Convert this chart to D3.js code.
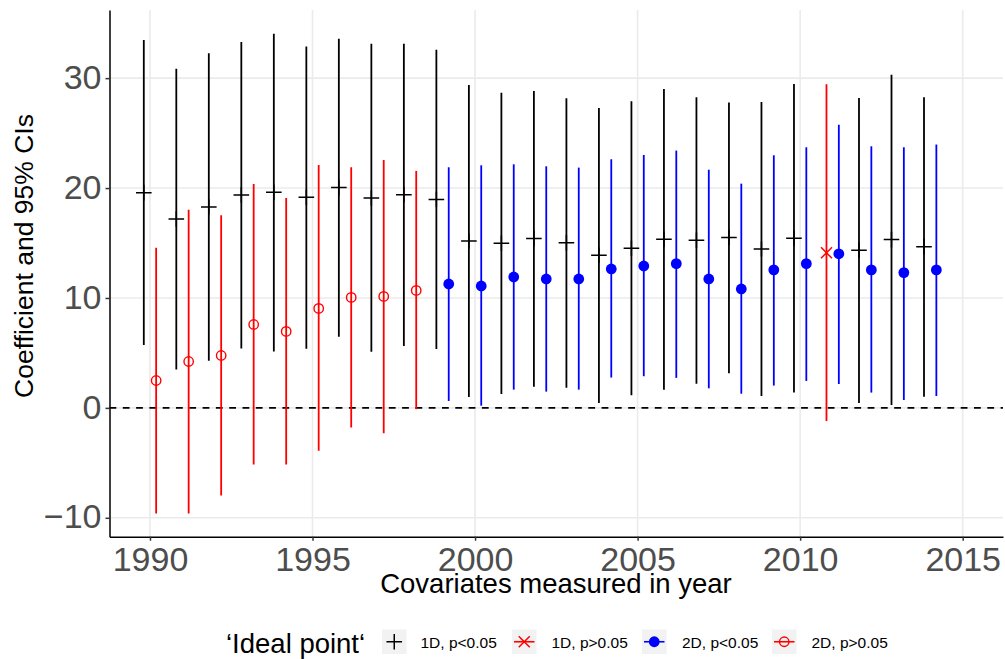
<!DOCTYPE html>
<html>
<head>
<meta charset="utf-8">
<script src="https://cdn.jsdelivr.net/npm/d3@7"></script>
<style>
  html, body { margin: 0; padding: 0; background: #fff; }
  svg { display: block; font-family: "Liberation Sans", Arial, Helvetica, sans-serif; }
</style>
</head>
<body>
<svg id="chart" width="1005" height="659"></svg>
<script>
// Year in which the covariates were measured
const years = [1990, 1991, 1992, 1993, 1994, 1995, 1996, 1997, 1998, 1999, 2000, 2001, 2002,
               2003, 2004, 2005, 2006, 2007, 2008, 2009, 2010, 2011, 2012, 2013, 2014];

// One-dimensional ideal point model: estimate and 95% CI
const est1D = [19.58, 17.19, 18.28, 19.37, 19.62, 19.16, 20.04, 19.10, 19.40, 18.97, 15.19, 14.98, 15.40,
               15.03, 13.88, 14.52, 15.34, 15.25, 15.50, 14.46, 15.43, 14.11, 14.35, 15.31, 14.67];
const lo1D  = [5.71, 3.50, 4.28, 5.41, 5.13, 5.38, 6.47, 5.10, 5.62, 5.36, 0.99, 1.26, 1.93,
               1.84, 0.45, 1.15, 1.66, 2.20, 3.15, 1.08, 1.39, -1.19, 0.45, 0.26, 1.02];
const hi1D  = [33.46, 30.85, 32.27, 33.28, 34.03, 32.88, 33.58, 33.12, 33.12, 32.58, 29.38, 28.68, 28.84,
               28.17, 27.29, 27.89, 29.02, 28.26, 27.78, 27.84, 29.47, 29.44, 28.20, 30.32, 28.26];
const sig1D = [true, true, true, true, true, true, true, true, true, true, true, true, true,
               true, true, true, true, true, true, true, true, false, true, true, true];

// Two-dimensional ideal point model: estimate and 95% CI
const est2D = [2.49, 4.22, 4.77, 7.59, 6.96, 9.05, 10.05, 10.14, 10.69, 11.27, 11.09, 11.91, 11.73,
               11.73, 12.64, 12.91, 13.12, 11.73, 10.82, 12.55, 13.12, 14.02, 12.55, 12.31, 12.55];
const lo2D  = [-9.62, -9.62, -7.98, -5.16, -5.16, -3.91, -1.79, -2.30, -0.12, 0.63, 0.20, 1.66, 1.48,
               1.66, 2.76, 2.88, 2.73, 1.78, 1.29, 2.03, 2.45, 2.18, 1.39, 0.72, 1.08];
const hi2D  = [14.57, 18.03, 17.52, 20.37, 19.10, 22.10, 21.89, 22.56, 21.56, 21.89, 22.07, 22.16, 21.98,
               21.86, 22.62, 23.01, 23.41, 21.67, 20.40, 22.98, 23.71, 25.77, 23.80, 23.71, 23.96];
const sig2D = [false, false, false, false, false, false, false, false, false, true, true, true, true,
               true, true, true, true, true, true, true, true, true, true, true, true];

const xTicks = [1990, 1995, 2000, 2005, 2010, 2015];
const yTicks = [-10, 0, 10, 20, 30];
const legendTitle = "\u2018Ideal point\u2018";
const legendLabels = ["1D, p<0.05", "1D, p>0.05", "2D, p<0.05", "2D, p>0.05"];

// Long-format rows: one per model and year
const rows = [];
years.forEach((yr, i) => {
  rows.push({ year: yr, model: "1D", est: est1D[i], lo: lo1D[i], hi: hi1D[i], sig: sig1D[i] });
  rows.push({ year: yr, model: "2D", est: est2D[i], lo: lo2D[i], hi: hi2D[i], sig: sig2D[i] });
});
const groupOf = d => `${d.model}, ${d.sig ? "p<0.05" : "p>0.05"}`;
const colour = d3.scaleOrdinal().domain(legendLabels).range(["#000000", "#FF0000", "#0000FF", "#FF0000"]);
const dodge = 0.19;

const svg = d3.select("#chart");
const panel = { left: 109.5, right: 1003, top: 10, bottom: 536.7 };

const x = d3.scaleLinear().domain([1988.755, 2016.24]).range([panel.left, panel.right]);
const y = d3.scaleLinear().domain([-11.72, 36.2]).range([panel.bottom, panel.top]);
const xPos = d => x(d.year + (d.model === "1D" ? -dodge : dodge));

// grid
const grid = svg.append("g").attr("stroke", "#EBEBEB").attr("stroke-width", 1.6);
grid.selectAll("line.h").data(yTicks).join("line")
  .attr("x1", panel.left).attr("x2", panel.right)
  .attr("y1", d => y(d)).attr("y2", d => y(d));
grid.selectAll("line.v").data(xTicks).join("line")
  .attr("y1", panel.top).attr("y2", panel.bottom)
  .attr("x1", d => x(d)).attr("x2", d => x(d));

// reference line at zero
svg.append("line")
  .attr("x1", panel.left).attr("x2", panel.right)
  .attr("y1", y(0)).attr("y2", y(0))
  .attr("stroke", "#000").attr("stroke-width", 1.8)
  .attr("stroke-dasharray", "6.8,6.5");

// confidence intervals
svg.append("g").selectAll("line").data(rows).join("line")
  .attr("x1", xPos).attr("x2", xPos)
  .attr("y1", d => y(d.lo)).attr("y2", d => y(d.hi))
  .attr("stroke", d => colour(groupOf(d)))
  .attr("stroke-width", 1.8);

// point shapes per group
function drawShape(g, group, cx, cy) {
  const c = colour(group);
  if (group === "1D, p<0.05") {
    g.append("path").attr("d", `M${cx - 7.8},${cy}H${cx + 7.8}M${cx},${cy - 7.8}V${cy + 7.8}`)
      .attr("stroke", c).attr("stroke-width", 1.5).attr("fill", "none");
  } else if (group === "1D, p>0.05") {
    const s = 5.5;
    g.append("path").attr("d", `M${cx - s},${cy - s}L${cx + s},${cy + s}M${cx - s},${cy + s}L${cx + s},${cy - s}`)
      .attr("stroke", c).attr("stroke-width", 1.5).attr("fill", "none");
  } else if (group === "2D, p<0.05") {
    g.append("circle").attr("cx", cx).attr("cy", cy).attr("r", 5.4).attr("fill", c);
  } else {
    g.append("circle").attr("cx", cx).attr("cy", cy).attr("r", 4.7)
      .attr("fill", "none").attr("stroke", c).attr("stroke-width", 1.4);
  }
}

const pts = svg.append("g");
rows.forEach(d => drawShape(pts, groupOf(d), xPos(d), y(d.est)));

// axes
const axisLeft = d3.axisLeft(y).tickValues(yTicks).tickSize(4).tickSizeOuter(0).tickPadding(5);
const axisBottom = d3.axisBottom(x).tickValues(xTicks).tickSize(4).tickSizeOuter(0).tickPadding(6)
  .tickFormat(d3.format("d"));

const gy = svg.append("g").attr("transform", `translate(${panel.left},0)`).call(axisLeft);
const gx = svg.append("g").attr("transform", `translate(0,${panel.bottom})`).call(axisBottom);
[gy, gx].forEach(g => {
  g.select(".domain").attr("stroke", "#000").attr("stroke-width", 1.5);
  g.selectAll(".tick line").attr("stroke", "#333").attr("stroke-width", 1.5);
  g.selectAll(".tick text").attr("fill", "#4D4D4D").attr("font-size", 34)
    .attr("font-family", "Liberation Sans, Arial, sans-serif");
});
gy.selectAll(".tick text").attr("dy", "0.30em").attr("x", -8);
gx.selectAll(".tick text").attr("dy", "0.71em");

// axis titles
svg.append("text").attr("x", 556).attr("y", 593).attr("text-anchor", "middle")
  .attr("font-size", 27.5).attr("fill", "#000").text("Covariates measured in year");
svg.append("text").attr("transform", "translate(33,256) rotate(-90)").attr("text-anchor", "middle")
  .attr("font-size", 26.5).attr("fill", "#000").text("Coefficient and 95% CIs");

// legend
const legend = svg.append("g");
legend.append("text").attr("x", 226).attr("y", 653).attr("font-size", 27.5).attr("fill", "#000").text(legendTitle);
const keyX = [382, 512, 642, 772];
const labelX = [420.5, 551.5, 682, 811.5];
const keySize = 24.5, keyTop = 629.5;
legendLabels.forEach((lab, i) => {
  const g = legend.append("g");
  g.append("rect").attr("x", keyX[i]).attr("y", keyTop).attr("width", keySize).attr("height", keySize)
    .attr("fill", "#F2F2F2");
  const cx = keyX[i] + keySize / 2, cy = keyTop + keySize / 2;
  if (lab !== "1D, p<0.05") {
    g.append("line").attr("x1", keyX[i] + 2).attr("x2", keyX[i] + keySize - 2)
      .attr("y1", cy).attr("y2", cy).attr("stroke", colour(lab)).attr("stroke-width", 1.6);
  }
  drawShape(g, lab, cx, cy);
  g.append("text").attr("x", labelX[i]).attr("y", 647.5).attr("font-size", 15.5).attr("fill", "#000").text(lab);
});
</script>
</body>
</html>
